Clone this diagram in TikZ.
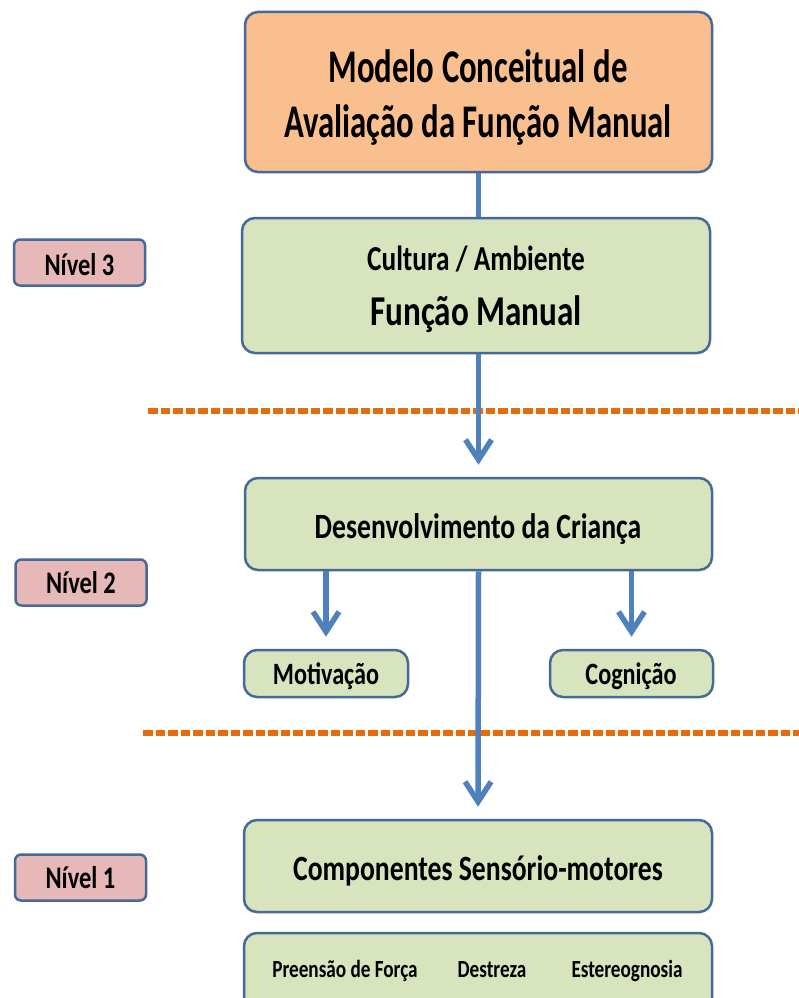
\documentclass[tikz,border=0pt]{standalone}
\usepackage{fontspec}
\setmainfont{Carlito}
\usepackage{graphicx}
\usetikzlibrary{arrows.meta, positioning}

\definecolor{boxline}{HTML}{46699A}
\definecolor{boxorange}{HTML}{FABF8F}
\definecolor{boxgreen}{HTML}{D7E4BD}
\definecolor{boxpink}{HTML}{E6B9B8}
\definecolor{arrowblue}{HTML}{4F81BD}
\definecolor{dashorange}{HTML}{E46C0A}

% narrow text, the original is squeezed sideways
\newcommand{\nrw}[2][0.78]{\scalebox{#1}[1]{#2}}
\newcommand{\fs}[1]{\bfseries\fontsize{#1}{#1}\selectfont}

\begin{document}
\begin{tikzpicture}
  [
    x = 1pt, y = -1pt,
    box/.style = {draw = boxline, line width = 2.5pt, rounded corners = 13pt, inner sep = 0pt},
    greenbox/.style = {box, fill = boxgreen},
    levelbox/.style = {box, fill = boxpink, rounded corners = 6pt, minimum width = 131pt, minimum height = 46pt},
    txt/.style = {anchor = base, inner sep = 0pt},
    arrow/.style = {draw = arrowblue, line width = 5.5pt, shorten > = 12pt,
                    -{Straight Barb[length = 20pt, width = 26pt]}},
    link/.style = {draw = arrowblue, line width = 5.5pt},
    divider/.style = {draw = dashorange, line width = 6pt, dash pattern = on 9.5pt off 3pt}
  ]
  \useasboundingbox (0,0) rectangle (799,998);
  \clip (0,0) rectangle (799,998);

  % boxes
  \node[box, fill = boxorange, minimum width = 467pt, minimum height = 160pt] (Model) at (478.5,92) {};
  \node[greenbox, minimum width = 468pt, minimum height = 135pt] (Culture) at (476,285.5) {};
  \node[greenbox, minimum width = 467pt, minimum height = 92pt] (Develop) at (478.5,524) {};
  \node[greenbox, minimum width = 164pt, minimum height = 47pt] (Motiv) at (326,673.5) {};
  \node[greenbox, minimum width = 163pt, minimum height = 47pt] (Cogn) at (631.5,673.5) {};
  \node[greenbox, minimum width = 468pt, minimum height = 92pt] (Sensor) at (478,866) {};
  \node[greenbox, minimum width = 468pt, minimum height = 90pt] (Skills) at (478,978) {};

  \node[levelbox] (L3) at (79.5,262.5) {};
  \node[levelbox] (L2) at (81,582.5) {};
  \node[levelbox] (L1) at (80.5,877.5) {};

  % texts
  \node[txt, font = \fs{46.8}] (ModelA) at (478,82) {\nrw[0.7]{Modelo Conceitual de}};
  \node[txt, font = \fs{46.8}] (ModelB) at (478,137) {\nrw[0.7]{Avaliação da Função Manual}};
  \node[txt, font = \fs{35}] (CultureA) at (476,270) {\nrw{Cultura / Ambiente}};
  \node[txt, font = \fs{42.5}] (CultureB) at (476,325) {\nrw{Função Manual}};
  \node[txt, font = \fs{35.5}] (DevelopA) at (478,538) {\nrw{Desenvolvimento da Criança}};
  \node[txt, font = \fs{31}] (MotivA) at (326,684) {\nrw{Motivação}};
  \node[txt, font = \fs{31}] (CognA) at (631,684) {\nrw{Cognição}};
  \node[txt, font = \fs{35.5}] (SensorA) at (478,880) {\nrw{Componentes Sensório-motores}};
  \node[txt, font = \fs{24.6}] (Grip) at (345,977) {\nrw{Preensão de Força}};
  \node[txt, font = \fs{24.6}] (Dext) at (492,977) {\nrw{Destreza}};
  \node[txt, font = \fs{24.6}] (Stereo) at (627,977) {\nrw{Estereognosia}};
  \node[txt, font = \fs{31.4}] (L3A) at (79.5,275) {\nrw{Nível 3}};
  \node[txt, font = \fs{31.4}] (L2A) at (81,593) {\nrw{Nível 2}};
  \node[txt, font = \fs{31.4}] (L1A) at (80.5,888) {\nrw{Nível 1}};

  % level dividers
  \draw[divider] (148,411) -- (799,411);
  \draw[divider] (143,733) -- (799,733);

  % connectors
  \draw[link] (Model.south) -- (Model.south |- Culture.north);
  \draw[arrow] (Develop.north |- Culture.south) -- (Develop.north);
  \draw[arrow] (Motiv.north |- Develop.south) -- (Motiv.north);
  \draw[arrow] (Cogn.north |- Develop.south) -- (Cogn.north);
  \draw[arrow] (Develop.south) -- (Sensor.north);
\end{tikzpicture}
\end{document}
